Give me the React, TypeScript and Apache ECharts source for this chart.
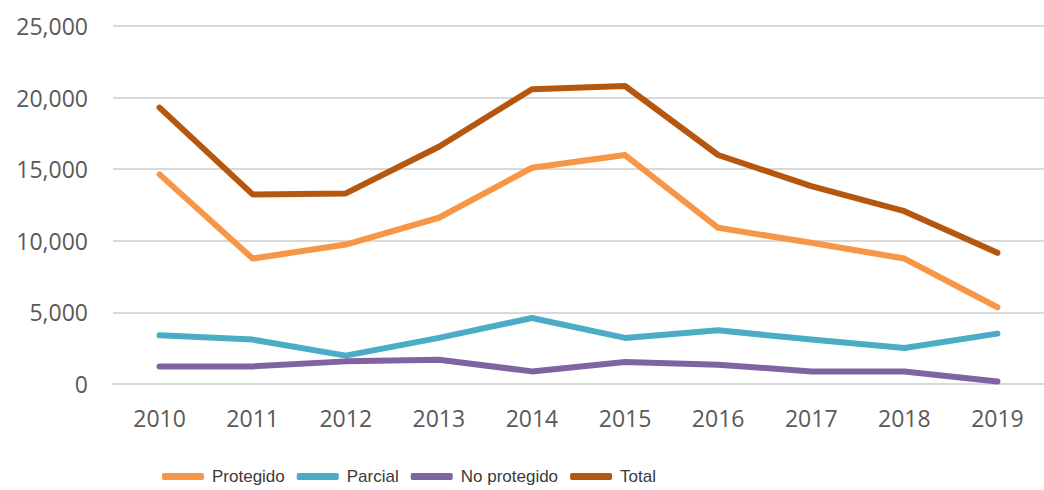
import React, { useEffect, useRef } from "react";
import * as echarts from "echarts";

const years = ["2010", "2011", "2012", "2013", "2014", "2015", "2016", "2017", "2018", "2019"];
const protegido = [14640, 8760, 9740, 11610, 15100, 15990, 10910, 9860, 8760, 5360];
const parcial = [3400, 3100, 1980, 3220, 4610, 3220, 3750, 3100, 2520, 3520];
const noProtegido = [1230, 1230, 1580, 1700, 880, 1540, 1350, 880, 880, 180];
const total = [19300, 13240, 13310, 16570, 20580, 20810, 15990, 13820, 12070, 9160];

const seriesNames = ["Protegido", "Parcial", "No protegido", "Total"];
const seriesColors = ["#F79646", "#4BACC6", "#8064A2", "#B5570F"];
const seriesData = [protegido, parcial, noProtegido, total];

export default function App() {
  const ref = useRef<HTMLDivElement>(null);
  useEffect(() => {
    if (!ref.current) return;
    const chart = echarts.init(ref.current, undefined, { renderer: "svg" });
    chart.setOption({
      animation: false,
      backgroundColor: "#ffffff",
      grid: { left: 113, top: 26, width: 941, height: 358, containLabel: false },
      legend: {
        top: 468,
        left: 162,
        padding: 0,
        itemWidth: 42,
        itemHeight: 7,
        itemGap: 12,
        icon: "roundRect",
        data: seriesNames,
        textStyle: {
          fontFamily: "'Liberation Sans', Arial, sans-serif",
          fontSize: 17,
          color: "#3a3a3a",
          padding: [0, 0, 0, 3],
        },
      },
      xAxis: {
        type: "category",
        data: years,
        boundaryGap: true,
        axisTick: { show: false },
        axisLine: { show: true, lineStyle: { color: "#D9D9D9", width: 2 } },
        axisLabel: {
          color: "#595959",
          fontSize: 23,
          fontFamily: "'Open Sans', sans-serif",
          margin: 22,
        },
      },
      yAxis: {
        type: "value",
        min: 0,
        max: 25000,
        interval: 5000,
        axisLine: { show: false },
        axisTick: { show: false },
        splitLine: { lineStyle: { color: "#D9D9D9", width: 2 } },
        axisLabel: {
          color: "#595959",
          fontSize: 23,
          fontFamily: "'Open Sans', sans-serif",
          margin: 25,
          formatter: (v: number) => v.toLocaleString("en-US"),
        },
      },
      series: seriesNames.map((name, i) => ({
        name,
        type: "line",
        data: seriesData[i],
        symbol: "none",
        color: seriesColors[i],
        lineStyle: { width: 6, color: seriesColors[i], cap: "round", join: "round" },
        itemStyle: { color: seriesColors[i] },
      })),
    });
    return () => chart.dispose();
  }, []);
  return (
    <div
      ref={ref}
      style={{ position: "fixed", left: 0, top: 0, width: 1044, height: 490 }}
    />
  );
}
